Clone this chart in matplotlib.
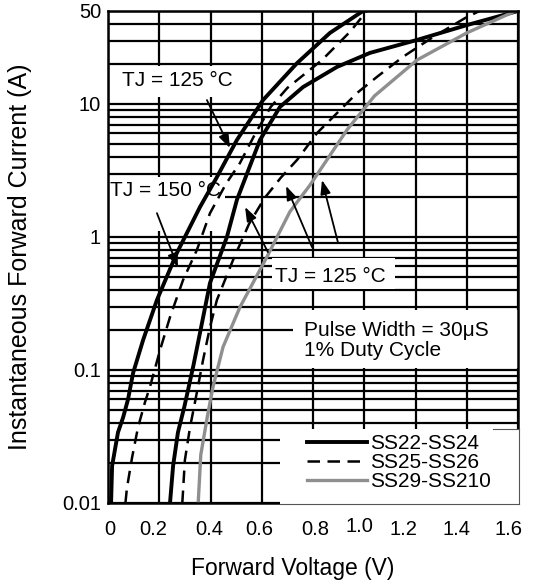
import matplotlib
matplotlib.use("Agg")
import matplotlib.pyplot as plt
from matplotlib.patches import Rectangle
from matplotlib.ticker import FixedLocator, LogLocator, NullFormatter
from matplotlib.transforms import ScaledTranslation

plt.rcParams['font.family'] = ['Liberation Sans', 'DejaVu Sans']

# Courbes : tension directe (V) / courant (A)
# paire de gauche
vf_left_solid = [0.012, 0.016, 0.039, 0.059, 0.078, 0.098, 0.137, 0.191, 0.269, 0.359,
                 0.425, 0.503, 0.605, 0.738, 0.866, 0.995]
if_left_solid = [0.010, 0.019, 0.034, 0.044, 0.060, 0.095, 0.168, 0.336, 0.76, 1.68,
                 2.82, 5.36, 10.7, 20.3, 34.2, 50]
vf_left_dash = [0.068, 0.074, 0.094, 0.117, 0.144, 0.164, 0.203, 0.242, 0.293, 0.347,
                0.398, 0.46, 0.515, 0.575, 0.635, 0.70, 0.835, 0.944, 1.01]
if_left_dash = [0.010, 0.013, 0.022, 0.037, 0.057, 0.075, 0.141, 0.25, 0.475, 0.80,
                1.51, 2.5, 3.6, 6.0, 9.5, 13.2, 21.4, 34.8, 50]
# paire du milieu
vf_mid_solid = [0.242, 0.254, 0.273, 0.298, 0.332, 0.359, 0.398, 0.464, 0.503, 0.593,
                0.671, 0.761, 0.894, 1.022, 1.206, 1.401, 1.6]
if_mid_solid = [0.010, 0.019, 0.034, 0.053, 0.105, 0.19, 0.451, 1.0, 1.9, 5.36,
                9.5, 13.4, 19.0, 24.2, 30.3, 39.2, 50]
vf_mid_dash = [0.290, 0.300, 0.320, 0.340, 0.371, 0.398, 0.425, 0.488, 0.55, 0.61,
               0.675, 0.738, 0.816, 0.894, 0.972, 1.05, 1.151, 1.27, 1.40, 1.45]
if_mid_dash = [0.010, 0.021, 0.037, 0.058, 0.119, 0.21, 0.336, 0.671, 1.25, 1.95,
               2.8, 3.8, 6.05, 8.55, 12.1, 16.0, 22.6, 32.0, 45.0, 50]
# SS29-SS210
vf_gray = [0.352, 0.362, 0.388, 0.410, 0.449, 0.515, 0.620, 0.710, 0.788, 0.833,
           0.933, 1.04, 1.206, 1.40, 1.59]
if_gray = [0.010, 0.023, 0.045, 0.075, 0.149, 0.297, 0.707, 1.55, 2.45, 3.3,
           6.4, 11.5, 21.4, 34.2, 50]

legend_labels = ["SS22-SS24", "SS25-SS26", "SS29-SS210"]

xticks = [0, 0.2, 0.4, 0.6, 0.8, 1.0, 1.2, 1.4, 1.6]
xtick_labels = ["0", "0.2", "0.4", "0.6", "0.8", "1.0", "1.2", "1.4", "1.6"]
yticks = [0.01, 0.1, 1, 10, 50]
ytick_labels = ["0.01", "0.1", "1", "10", "50"]

# fleches : (queue, pointe) en coordonnees donnees
arrow_125_top = [((0.386, 10.7), (0.476, 4.67))]
arrow_150 = [((0.191, 1.51), (0.273, 0.59))]
arrow_125_low = [((0.624, 0.77), (0.535, 1.68)),
                 ((0.796, 0.84), (0.695, 2.42)),
                 ((0.898, 0.90), (0.835, 2.68))]

fig = plt.figure(figsize=(5.35, 5.86), dpi=100)
ax = fig.add_axes([108 / 535, 83 / 586, 410 / 535, 492 / 586])
ax.set_yscale('log')
ax.set_xlim(0, 1.6)
ax.set_ylim(0.01, 50)

ax.xaxis.set_major_locator(FixedLocator(xticks))
ax.set_xticklabels(xtick_labels)
ax.yaxis.set_major_locator(FixedLocator(yticks))
ax.set_yticklabels(ytick_labels)
ax.yaxis.set_minor_locator(LogLocator(base=10, subs=range(2, 10), numticks=20))
ax.yaxis.set_minor_formatter(NullFormatter())
ax.tick_params(which='both', length=0)
ax.tick_params(axis='x', labelsize=14.5, pad=12)
ax.tick_params(axis='y', labelsize=14.5, pad=5)

ax.set_axisbelow(True)
ax.grid(which='major', axis='x', color='black', lw=1.6)
ax.grid(which='both', axis='y', color='black', lw=1.6)
for sp in ax.spines.values():
    sp.set_linewidth(1.8)

# petits decalages des etiquettes de x comme sur l'original
xtick_dx = [2, -6, -1, -3, 2, -5, -12, -10, -10]
xtick_dy = [0, 0, 0, 0, 0, 3, 0, 0, 0]
for lab, dx, dy in zip(ax.get_xticklabels(), xtick_dx, xtick_dy):
    lab.set_transform(lab.get_transform() + ScaledTranslation(dx / 100, dy / 100, fig.dpi_scale_trans))

# zones blanches sous les textes (coordonnees axes)
def box(px0, py0, px1, py1, z=1):
    r = Rectangle(((px0 - 108) / 410, (503 - py1) / 492), (px1 - px0) / 410, (py1 - py0) / 492,
                  transform=ax.transAxes, facecolor='white', edgecolor='none', zorder=z, clip_on=False)
    ax.add_patch(r)

box(110, 66, 244, 97)
box(108, 177, 225, 231)
box(272, 258, 395, 289)
box(293, 310, 518, 368)
box(280, 429, 520, 505, z=3)

# courbes
l1, = ax.plot(vf_left_solid, if_left_solid, color='black', lw=2.8, zorder=2, label=legend_labels[0])
l2, = ax.plot(vf_left_dash, if_left_dash, color='black', lw=1.8, zorder=2, label=legend_labels[1])
l2.set_dashes([5, 3])
ax.plot(vf_mid_solid, if_mid_solid, color='black', lw=2.8, zorder=2)
l4, = ax.plot(vf_mid_dash, if_mid_dash, color='black', lw=1.8, zorder=2)
l4.set_dashes([5, 3])
l5, = ax.plot(vf_gray, if_gray, color='#8f8f8f', lw=2.4, zorder=2, label=legend_labels[2])

# fleches
for tail, head in arrow_125_top + arrow_150 + arrow_125_low:
    ax.annotate('', xy=head, xytext=tail,
                arrowprops=dict(arrowstyle='-|>,head_length=0.6,head_width=0.22', color='black',
                                lw=1.3, shrinkA=0, shrinkB=0, mutation_scale=14), zorder=4)

# textes
def fx(px):
    return (px - 108) / 410

def fy(py):
    return (503 - py) / 492

ax.text(fx(122), fy(81), "TJ = 125 °C", transform=ax.transAxes, fontsize=15, va='center', zorder=5)
ax.text(fx(110), fy(191), "TJ = 150 °C", transform=ax.transAxes, fontsize=15, va='center', zorder=5)
ax.text(fx(275), fy(277), "TJ = 125 °C", transform=ax.transAxes, fontsize=15, va='center', zorder=5)
ax.text(fx(304), fy(330), "Pulse Width = 30μS", transform=ax.transAxes, fontsize=15, va='center', zorder=5)
ax.text(fx(304), fy(351), "1% Duty Cycle", transform=ax.transAxes, fontsize=15, va='center', zorder=5)

# bords du cadre de legende
ax.plot([fx(493), fx(519)], [fy(429), fy(429)], transform=ax.transAxes, color='#555555', lw=0.8,
        clip_on=False, zorder=3.5)
ax.plot([fx(519), fx(519)], [fy(429), fy(504)], transform=ax.transAxes, color='#555555', lw=0.8,
        clip_on=False, zorder=3.5)
ax.plot([fx(280), fx(519)], [fy(504), fy(504)], transform=ax.transAxes, color='#555555', lw=0.8,
        clip_on=False, zorder=3.5)

leg = ax.legend(handles=[l1, l2, l5], loc='upper left', bbox_to_anchor=(fx(307), fy(434)),
                frameon=False, fontsize=15, handlelength=2.9, handletextpad=0.15,
                labelspacing=0.0, borderpad=0, borderaxespad=0)
leg.set_zorder(6)

fig.text(293 / 535, 1 - 568 / 586, "Forward Voltage (V)", ha='center', va='center', fontsize=16.5)
fig.text(20 / 535, 1 - 257 / 586, "Instantaneous Forward Current (A)", ha='center', va='center',
         rotation=90, fontsize=18)

fig.savefig("out.png", dpi=100)
